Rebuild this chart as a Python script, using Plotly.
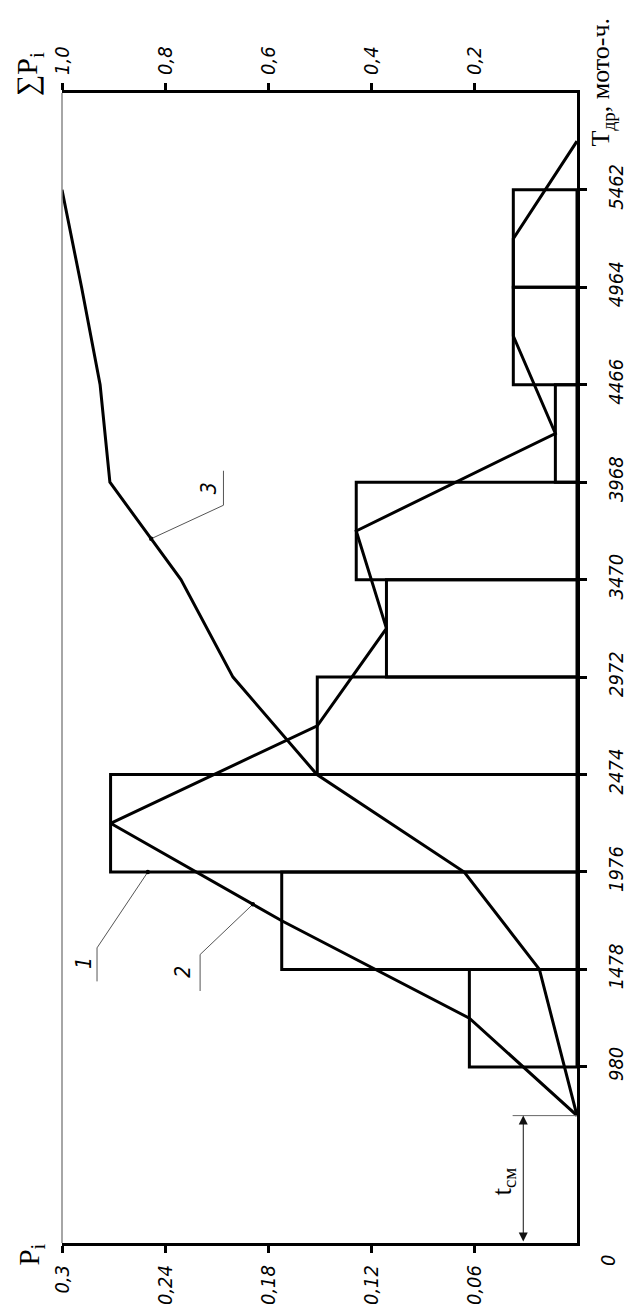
import numpy as np
import plotly.graph_objects as go

# ---------------- data ----------------
edges = [980, 1478, 1976, 2474, 2972, 3470, 3968, 4466, 4964, 5462]   # T, мото-ч.
p_vals = [0.0627, 0.172, 0.2717, 0.1513, 0.111, 0.1286, 0.0126, 0.0371, 0.0371]  # Pi
cum_t = [731, 1478, 1976, 2474, 2972, 3470, 3968, 4466, 4964, 5462]
cum_p = [0.0, 0.073, 0.219, 0.505, 0.668, 0.769, 0.907, 0.926, 0.962, 1.0]   # ΣPi
p_ticks = [0.3, 0.24, 0.18, 0.12, 0.06]
p_ticktext = ["0,3", "0,24", "0,18", "0,12", "0,06"]
s_ticks = [1.0, 0.8, 0.6, 0.4, 0.2]
s_ticktext = ["1,0", "0,8", "0,6", "0,4", "0,2"]
t_ticktext = [str(e) for e in edges]

# ---------------- layout geometry ----------------
W, H = 632, 1309
ML, MR, MT, MB = 54, 51, 85, 57
PW, PH = W - ML - MR, H - MT - MB
P_RANGE = [0.3, 0.0]
S_RANGE = [1.0, 0.0]
T_RANGE = [80, 5957]

def px_p(p):
    return ML + (P_RANGE[0] - p) / (P_RANGE[0] - P_RANGE[1]) * PW

def px_s(s):
    return ML + (S_RANGE[0] - s) / (S_RANGE[0] - S_RANGE[1]) * PW

def py_t(t):
    return MT + (T_RANGE[1] - t) / (T_RANGE[1] - T_RANGE[0]) * PH

def fx(px):
    return (px - ML) / PW

def fy(py):
    return (H - MB - py) / PH

edges_a = np.array(edges, dtype=float)
mids = (edges_a[:-1] + edges_a[1:]) / 2
widths = np.diff(edges_a)
half = widths[0] / 2
poly_t = [edges_a[0] - half] + list(mids) + [edges_a[-1] + half]
poly_p = [0.0] + p_vals + [0.0]

NUM_FONT = dict(family="Liberation Sans Narrow, DejaVu Sans Condensed, Liberation Sans, sans-serif",
                size=20, color="black", style="italic")
SERIF = "Liberation Serif, DejaVu Serif, serif"

fig = go.Figure()

# histogram (1)
fig.add_trace(go.Bar(
    orientation="h", y=mids, x=p_vals, width=widths,
    marker=dict(color="rgba(0,0,0,0)", line=dict(color="black", width=3)),
    xaxis="x", yaxis="y", showlegend=False, hoverinfo="skip"))

# frequency polygon (2)
fig.add_trace(go.Scatter(
    x=poly_p, y=poly_t, mode="lines", line=dict(color="black", width=3),
    xaxis="x", yaxis="y", showlegend=False, cliponaxis=False, hoverinfo="skip"))

# cumulative curve (3)
fig.add_trace(go.Scatter(
    x=cum_p, y=cum_t, mode="lines", line=dict(color="black", width=3),
    xaxis="x2", yaxis="y", showlegend=False, cliponaxis=False, hoverinfo="skip"))

# leader anchor points
a1 = (px_p(0.25), py_t(edges[2]))
t2 = 1811
a2 = (px_p(float(np.interp(t2, poly_t, poly_p))), py_t(t2))
t3 = 3679
a3 = (px_s(float(np.interp(t3, cum_t, cum_p))), py_t(t3))

leaders = [
    (a1, (-52, 77), 34, "1", (-14, 15)),
    (a2, (-54, 51), 37, "2", (-17, 17)),
    (a3, (74, -34), -35, "3", (-14, -17)),
]

shapes = []
annotations = []
for (ax_, ay_), (dx, dy), dv, label, (tx, ty) in leaders:
    kx, ky = ax_ + dx, ay_ + dy
    path = (f"M {fx(ax_)},{fy(ay_)} L {fx(kx)},{fy(ky)} L {fx(kx)},{fy(ky + dv)}")
    shapes.append(dict(type="path", path=path, xref="paper", yref="paper",
                       line=dict(color="#555", width=1)))
    annotations.append(dict(text=label, x=fx(kx + tx), y=fy(ky + ty), xref="paper", yref="paper",
                            showarrow=False, textangle=-90, font=dict(NUM_FONT, size=21),
                            xanchor="center", yanchor="middle"))
    shapes.append(dict(type="circle", xref="paper", yref="paper",
                       x0=fx(ax_ - 2.2), x1=fx(ax_ + 2.2), y0=fy(ay_ - 2.2), y1=fy(ay_ + 2.2),
                       fillcolor="black", line=dict(color="black", width=0)))

# left thin frame line
shapes.append(dict(type="line", xref="paper", yref="paper", x0=0, x1=0, y0=0, y1=1,
                   line=dict(color="#888", width=1.5)))

# t_sm dimension
dim_p = 0.0313
shapes.append(dict(type="line", xref="x", yref="y", x0=0.0375, x1=0.0, y0=cum_t[0], y1=cum_t[0],
                   line=dict(color="#666", width=1)))
annotations.append(dict(x=dim_p, y=cum_t[0], ax=dim_p, ay=T_RANGE[0], xref="x", yref="y",
                        axref="x", ayref="y", showarrow=True, arrowhead=2, arrowside="end+start",
                        arrowsize=1.8, arrowwidth=1, arrowcolor="#111", text="", standoff=0,
                        startstandoff=0))
annotations.append(dict(text="t<sub>см</sub>", x=fx(506), y=fy(1190), xref="paper", yref="paper",
                        showarrow=False, textangle=-90, font=dict(family=SERIF, size=27, color="black"),
                        xanchor="center", yanchor="middle"))

# axis titles
annotations.append(dict(text="P<sub>i</sub>", x=fx(22), y=fy(1264), xref="paper", yref="paper",
                        showarrow=False, textangle=-90, font=dict(family=SERIF, size=29, color="black"),
                        xanchor="center", yanchor="middle"))
annotations.append(dict(text="∑P<sub>i</sub>", x=fx(21), y=fy(66), xref="paper", yref="paper",
                        showarrow=False, textangle=-90, font=dict(family=SERIF, size=30, color="black"),
                        xanchor="center", yanchor="middle"))
annotations.append(dict(text="T<sub>др</sub>, мото-ч.", x=fx(607), y=fy(74), xref="paper", yref="paper",
                        showarrow=False, textangle=-90, font=dict(family=SERIF, size=26, color="black"),
                        xanchor="center", yanchor="middle"))
annotations.append(dict(text="0", x=fx(612), y=fy(1270), xref="paper", yref="paper",
                        showarrow=False, textangle=-90, font=NUM_FONT,
                        xanchor="center", yanchor="middle"))

axis_common = dict(showline=True, linecolor="black", linewidth=3, ticks="outside", ticklen=7,
                   tickwidth=3, tickcolor="black", tickangle=-90, tickfont=NUM_FONT,
                   showgrid=False, zeroline=False, mirror=False, fixedrange=True)

fig.update_layout(
    width=W, height=H, margin=dict(l=ML, r=MR, t=MT, b=MB, pad=0),
    paper_bgcolor="white", plot_bgcolor="white",
    barmode="overlay", showlegend=False,
    xaxis=dict(axis_common, range=P_RANGE, side="bottom", tickvals=p_ticks, ticktext=p_ticktext,
               ticklabelstandoff=4),
    xaxis2=dict(axis_common, range=S_RANGE, side="top", overlaying="x", anchor="y",
                tickvals=s_ticks, ticktext=s_ticktext, ticklabelstandoff=4),
    yaxis=dict(axis_common, range=T_RANGE, side="right", tickvals=edges, ticktext=t_ticktext,
               ticklabelstandoff=12),
    shapes=shapes, annotations=annotations,
)

fig.write_html("out.html")
